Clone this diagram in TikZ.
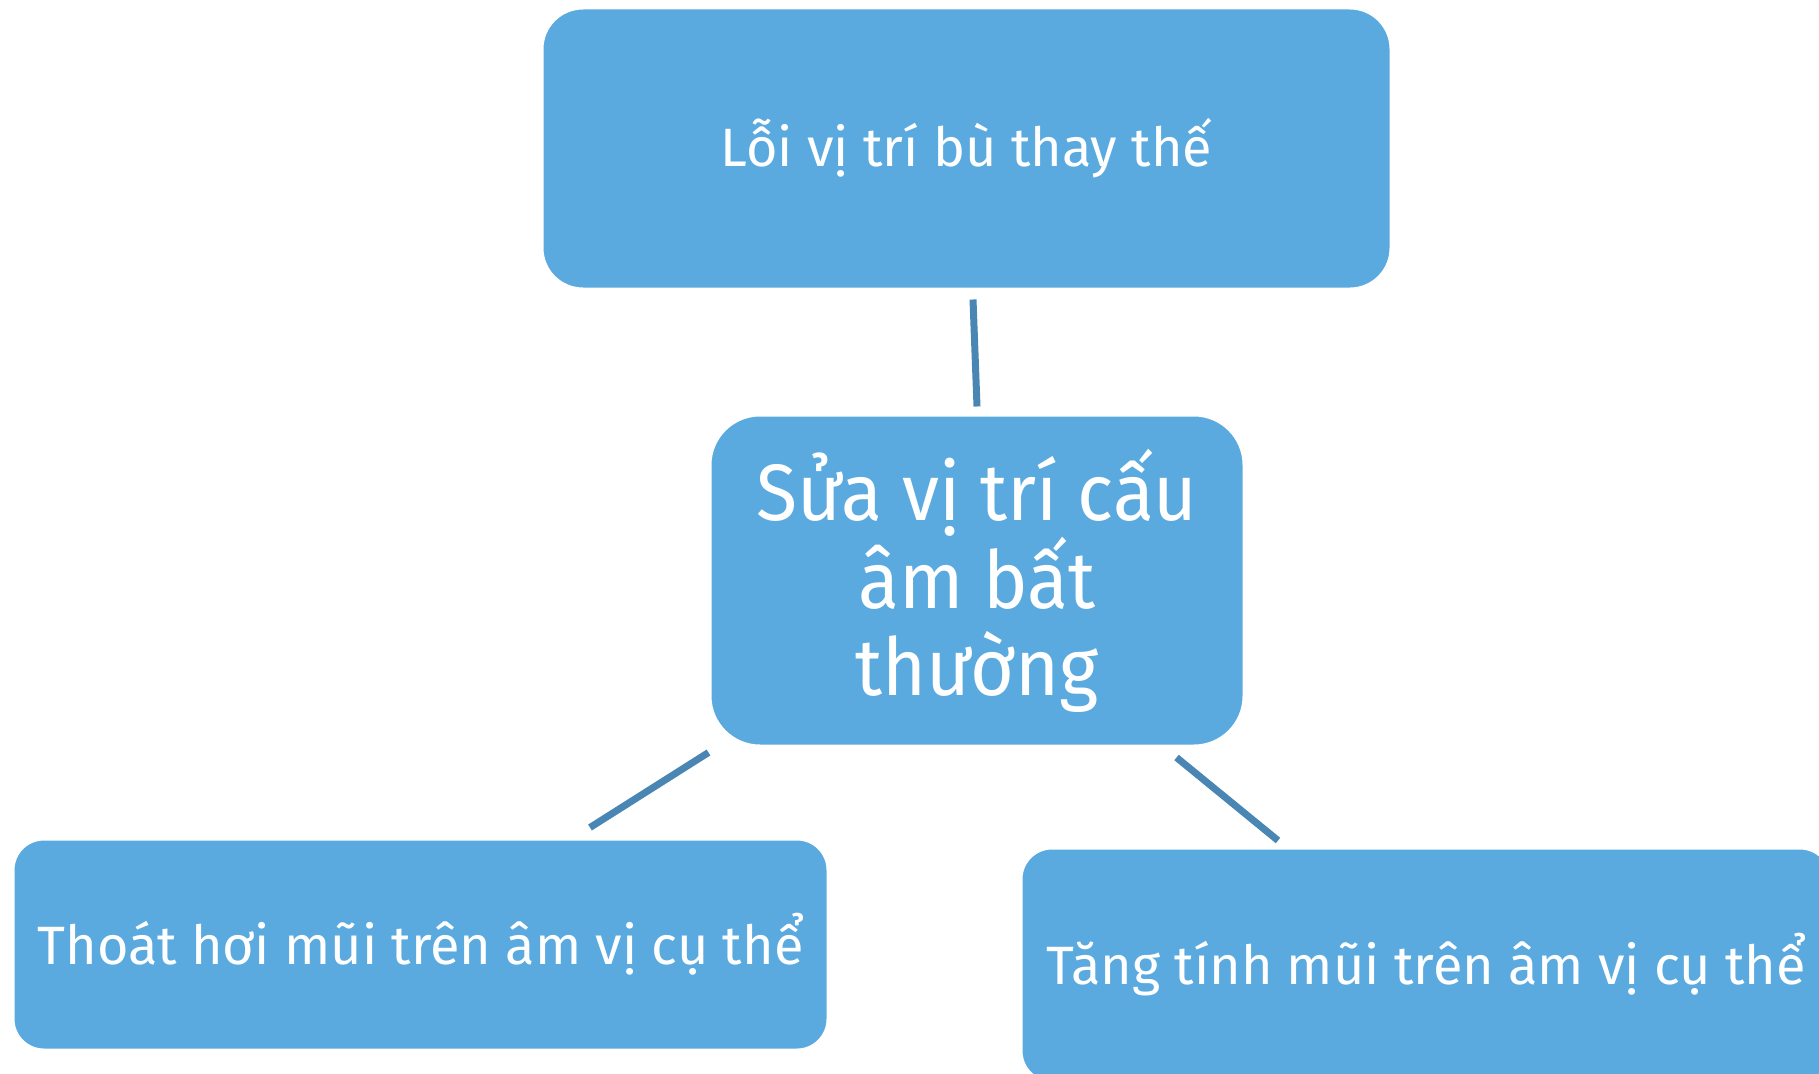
\documentclass[tikz,border=0pt]{standalone}
\usepackage{fontspec}
\setmainfont{Fira Sans}
\usetikzlibrary{calc}
\definecolor{boxfill}{HTML}{5AAAE0}
\definecolor{edgecol}{HTML}{4A86B4}
\tikzset{
  box/.style={fill=boxfill, draw=white, line width=3pt, rectangle, inner sep=0pt, text=white, align=center},
  small/.style={font=\fontsize{54}{64}\selectfont},
  big/.style={font=\fontsize{80}{87}\selectfont},
  link/.style={draw=edgecol, line width=7pt}
}
\begin{document}
\begin{tikzpicture}[x=1pt, y=-1pt]
\useasboundingbox (0,0) rectangle (1819,1073);
\clip (0,0) rectangle (1819,1073);
\fill[white] (0,0) rectangle (1819,1073);
\node[box, small, minimum width=849pt, minimum height=281pt, rounded corners=41pt] (top) at (966.5,148.5)
  {Lỗi vị trí bù thay thế};
\node[box, big, minimum width=534pt, minimum height=331pt, rounded corners=50pt] (mid) at (977,580.5)
  {\scalebox{0.94}[1]{Sửa vị trí cấu}\\\scalebox{0.94}[1]{âm bất}\\\scalebox{0.94}[1]{thường}};
\node[box, small, minimum width=815pt, minimum height=211pt, rounded corners=31pt] (bl) at (420.5,944.5)
  {Thoát hơi mũi trên âm vị cụ thể};
\node[box, small, minimum width=810pt, minimum height=234pt, rounded corners=31pt] (br) at (1426,965)
  {Tăng tính mũi trên âm vị cụ thể};
\draw[link] ($(top.south)+(6.5,9)$) -- ($(mid.north)+(0,-7)$);
\draw[link] ($(mid.south west)+(0,5)$) -- ($(bl.north)+(169.5,-10)$);
\draw[link] ($(mid.south east)+(-69,10)$) -- ($(br.north)+(-148,-6)$);
\end{tikzpicture}
\end{document}
